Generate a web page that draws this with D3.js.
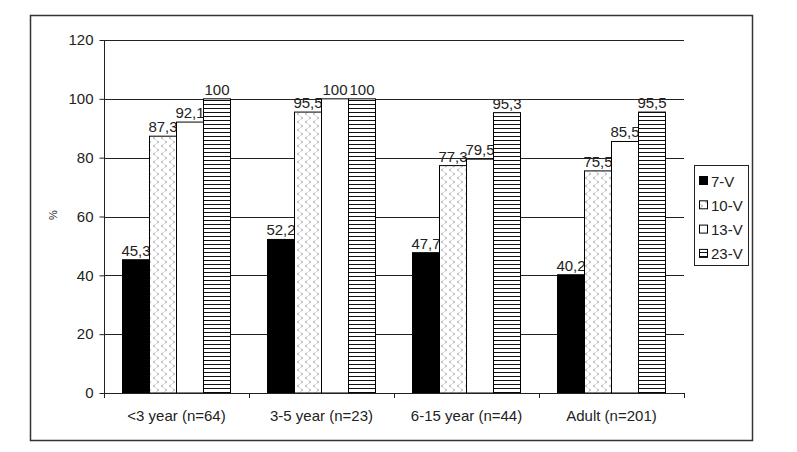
<!DOCTYPE html>
<html><head><meta charset="utf-8">
<script src="https://cdn.jsdelivr.net/npm/d3@7"></script>
<style>body{margin:0;background:#fff;}svg{display:block;font-family:"Liberation Sans",Arial,sans-serif;}</style>
</head><body>
<svg id="c" width="797" height="452"></svg>
<script>
const categories = ["<3 year (n=64)", "3-5 year (n=23)", "6-15 year (n=44)", "Adult (n=201)"];
const seriesNames = ["7-V", "10-V", "13-V", "23-V"];
const v7 = [45.3, 52.2, 47.7, 40.2];
const v10 = [87.3, 95.5, 77.3, 75.5];
const v13 = [92.1, 100, 79.5, 85.5];
const v23 = [100, 100, 95.3, 95.5];
const yTicks = [0, 20, 40, 60, 80, 100, 120];

(function(){
const seriesValues = [v7, v10, v13, v23];
const svg = d3.select("#c");
const defs = svg.append("defs");
const pd = defs.append("pattern").attr("id","dots").attr("patternUnits","userSpaceOnUse").attr("width",8).attr("height",8);
pd.append("rect").attr("width",8).attr("height",8).attr("fill","#fff");
pd.append("path").attr("d","M3,0.5 L1.5,2 L3,3.5").attr("fill","none").attr("stroke","#777").attr("stroke-width",0.8);
pd.append("path").attr("d","M5,4.5 L6.5,6 L5,7.5").attr("fill","none").attr("stroke","#777").attr("stroke-width",0.8);
const ps = defs.append("pattern").attr("id","stripes").attr("patternUnits","userSpaceOnUse").attr("width",4).attr("height",4);
ps.append("rect").attr("width",4).attr("height",4).attr("fill","#fff");
ps.append("rect").attr("y",0).attr("width",4).attr("height",1).attr("fill","#111");
const fills = ["#000", "url(#dots)", "#fff", "url(#stripes)"];

svg.append("rect").attr("x",30.5).attr("y",15.5).attr("width",722).attr("height",425).attr("fill","none").attr("stroke","#333").attr("stroke-width",1.5);

const pL = 104, pR = 684, pT = 40, pB = 393;
const x0 = d3.scaleBand().domain(categories).range([pL, pR]).paddingInner(0).paddingOuter(0);
const x1 = d3.scaleBand().domain(seriesNames).range([18.5, x0.bandwidth()-18.5]).padding(0);
const y = d3.scaleLinear().domain([0,120]).range([pB, pT]);

svg.append("g").selectAll("line").data(yTicks.filter(d=>d>0)).join("line")
  .attr("x1",pL).attr("x2",pR).attr("y1",d=>Math.round(y(d))+0.5).attr("y2",d=>Math.round(y(d))+0.5)
  .attr("stroke","#222").attr("stroke-width",1);

const g = svg.append("g");
categories.forEach((c,i)=>{
  seriesNames.forEach((s,j)=>{
    const val = seriesValues[j][i];
    const bx = x0(c)+x1(s);
    g.append("rect").attr("x",bx).attr("y",y(val)).attr("width",x1.bandwidth()).attr("height",pB-y(val))
      .attr("fill",fills[j]).attr("stroke","#000").attr("stroke-width",1);
    g.append("text").attr("x",bx+x1.bandwidth()/2).attr("y",y(val)-4).attr("text-anchor","middle")
      .attr("font-size",15).attr("fill","#222").text(String(val).replace(".",","));
  });
});

const ya = svg.append("g").attr("transform",`translate(${pL+0.5},0)`)
  .call(d3.axisLeft(y).tickValues(yTicks).tickSize(5).tickPadding(6).tickFormat(d3.format("d")));
ya.select(".domain").attr("stroke","#222").attr("d",`M0,${pT}V${pB}`);
ya.selectAll(".tick line").attr("stroke","#222");
ya.selectAll("text").attr("font-size",15).attr("fill","#222").attr("font-family","Liberation Sans, Arial, sans-serif");

const xa = svg.append("g").attr("transform",`translate(0,${pB+0.5})`)
  .call(d3.axisBottom(x0).tickSize(0).tickPadding(17));
xa.select(".domain").attr("stroke","#222").attr("d",`M${pL},0H${pR}`);
xa.selectAll("text").attr("font-size",15).attr("fill","#222").attr("font-family","Liberation Sans, Arial, sans-serif");
svg.append("g").selectAll("line").data(d3.range(categories.length+1)).join("line")
  .attr("x1",i=>pL+i*x0.step()+0.5).attr("x2",i=>pL+i*x0.step()+0.5)
  .attr("y1",pB).attr("y2",pB+5).attr("stroke","#222");

svg.append("text").attr("transform","translate(57,215) rotate(-90)").attr("text-anchor","middle")
  .attr("font-size",11).attr("fill","#222").text("%");

const lg = svg.append("g");
lg.append("rect").attr("x",694.5).attr("y",165.5).attr("width",54).attr("height",100).attr("fill","#fff").attr("stroke","#222");
seriesNames.forEach((s,j)=>{
  const cy = 181 + j*24.3;
  lg.append("rect").attr("x",699.5).attr("y",cy-4.5).attr("width",8).attr("height",8)
    .attr("fill",j===1?"url(#dots)":fills[j]).attr("stroke","#000").attr("stroke-width",1);
  lg.append("text").attr("x",711).attr("y",cy+5.5).attr("font-size",15).attr("fill","#222").text(s);
});
})();
</script>
</body></html>
